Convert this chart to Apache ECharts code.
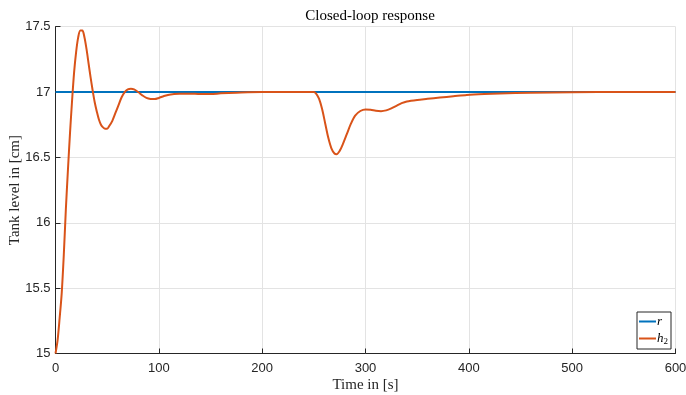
<!DOCTYPE html>
<html>
<head>
<meta charset="utf-8">
<script src="https://cdn.jsdelivr.net/npm/echarts@6/dist/echarts.min.js"></script>
<style>
  html, body { margin: 0; padding: 0; background: #fff; }
  #main { width: 686px; height: 395px; }
</style>
</head>
<body>
<div id="main"></div>
<script>
// reference r (setpoint) and tank level h2
const refTime = [0, 600];
const refLevel = [17, 17];

const time = [0, 2, 4, 6, 8, 10, 12, 14, 16, 18, 20, 22, 24, 26, 28, 30, 32, 34, 36, 38,
  40, 42, 44, 46, 48, 50, 52, 55, 58, 61, 64, 67, 70, 73, 76, 80, 84, 88, 92, 96,
  100, 105, 110, 120, 130, 140, 150, 160, 175, 200, 250, 252, 255, 258, 261, 264, 267, 270, 272, 275,
  278, 282, 286, 290, 295, 300, 305, 310, 315, 320, 325, 330, 335, 340, 350, 360, 372, 385, 398, 415,
  430, 460, 500, 550, 600];
const level = [15, 15.1, 15.27, 15.46, 15.75, 16.1, 16.4, 16.68, 16.93, 17.15, 17.31, 17.42, 17.47, 17.47, 17.42, 17.33, 17.22, 17.11, 17.01, 16.92,
  16.85, 16.79, 16.75, 16.73, 16.72, 16.72, 16.74, 16.78, 16.84, 16.9, 16.96, 17.0, 17.02, 17.025, 17.02, 17.0, 16.975, 16.955, 16.947, 16.946,
  16.955, 16.97, 16.98, 16.987, 16.988, 16.985, 16.985, 16.99, 16.995, 17.0, 17.0, 16.99, 16.95, 16.87, 16.76, 16.65, 16.57, 16.53, 16.525, 16.55,
  16.6, 16.68, 16.76, 16.82, 16.855, 16.867, 16.865, 16.857, 16.854, 16.86, 16.875, 16.895, 16.915, 16.928, 16.94, 16.948, 16.958, 16.968, 16.978, 16.985,
  16.989, 16.995, 16.999, 17, 17];

const serif = '"Liberation Serif", "DejaVu Serif", serif';
const sans = '"Liberation Sans", Arial, sans-serif';

const myChart = echarts.init(document.getElementById('main'));
myChart.setOption({
  animation: false,
  backgroundColor: '#fff',
  title: {
    text: 'Closed-loop response',
    left: 365, top: 4,
    textAlign: 'center',
    textStyle: { fontFamily: serif, fontSize: 15, fontWeight: 'normal', color: '#000' }
  },
  grid: { left: 55.5, right: 10.5, top: 26.7, bottom: 41.5, outerBoundsMode: 'none', containLabel: false },
  legend: {
    orient: 'vertical',
    right: 15, bottom: 46,
    icon: 'rect',
    itemWidth: 17, itemHeight: 2,
    itemGap: 4,
    padding: [3, 3, 3, 2],
    borderColor: '#262626', borderWidth: 1, backgroundColor: '#fff',
    data: ['r', 'h2'],
    formatter: function (name) {
      return name === 'h2' ? '{i|h}{s|2}' : '{i|r}';
    },
    textStyle: {
      padding: [0, 0, 0, -4],
      rich: {
        i: { fontFamily: serif, fontStyle: 'italic', fontSize: 13, color: '#000' },
        s: { fontFamily: serif, fontSize: 9, color: '#000', padding: [6, 0, 0, 0] }
      }
    }
  },
  xAxis: {
    type: 'value',
    min: 0, max: 600, interval: 100,
    name: 'Time in [s]',
    nameLocation: 'middle', nameGap: 24, nameMoveOverlap: false,
    nameTextStyle: { fontFamily: serif, fontSize: 15, color: '#262626' },
    axisLine: { lineStyle: { color: '#262626', width: 1 } },
    axisTick: { inside: true, length: 5, lineStyle: { color: '#262626' } },
    axisLabel: { fontFamily: sans, fontSize: 13, color: '#262626', margin: 8 },
    splitLine: { show: true, lineStyle: { color: '#e3e3e3', width: 1 } }
  },
  yAxis: {
    type: 'value',
    min: 15, max: 17.5, interval: 0.5,
    name: 'Tank level in [cm]',
    nameLocation: 'middle', nameGap: 33, nameRotate: 90, nameMoveOverlap: false,
    nameTextStyle: { fontFamily: serif, fontSize: 15, color: '#262626' },
    axisLine: { show: true, lineStyle: { color: '#262626', width: 1 } },
    axisTick: { show: true, inside: true, length: 5, lineStyle: { color: '#262626' } },
    axisLabel: { fontFamily: sans, fontSize: 13, color: '#262626', margin: 5 },
    splitLine: { show: true, lineStyle: { color: '#e3e3e3', width: 1 } }
  },
  series: [
    {
      name: 'r',
      type: 'line',
      showSymbol: false,
      symbol: 'none',
      data: refTime.map(function (t, i) { return [t, refLevel[i]]; }),
      lineStyle: { color: '#0072BD', width: 2 },
      itemStyle: { color: '#0072BD' }
    },
    {
      name: 'h2',
      type: 'line',
      showSymbol: false,
      symbol: 'none',
      smooth: 0.3,
      data: time.map(function (t, i) { return [t, level[i]]; }),
      lineStyle: { color: '#D95319', width: 2 },
      itemStyle: { color: '#D95319' }
    }
  ]
});
</script>
</body>
</html>
